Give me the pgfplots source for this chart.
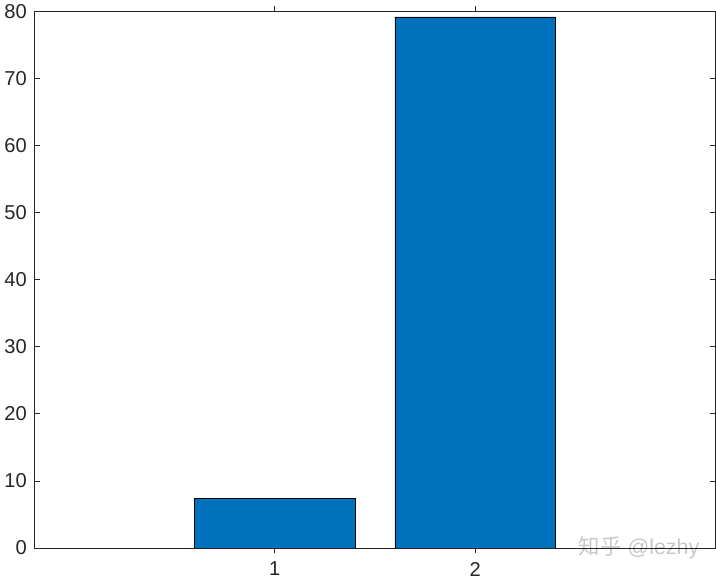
\documentclass[border=0pt]{standalone}
\usepackage{pgfplots}
\pgfplotsset{compat=1.18}
\usepackage{fontspec}
\setmainfont{Liberation Sans}
\newfontfamily\cjk{Noto Sans CJK SC}
\definecolor{matblue}{RGB}{0,114,189}
\definecolor{axgray}{RGB}{38,38,38}
\begin{document}
\begin{tikzpicture}
\begin{axis}[
  scale only axis,
  width=509pt, height=400.7pt,
  xmin=-0.2, xmax=3.2, ymin=0, ymax=80,
  xtick={1,2}, ytick={0,10,...,80},
  tick align=inside,
  major tick length=4pt,
  axis on top,
  clip=false,
  axis line style={axgray, line width=0.6pt},
  tick style={axgray, line width=0.6pt},
  ticklabel style={font=\fontsize{15}{17}\selectfont, text=axgray},
  /pgf/number format/assume math mode=true,
  xticklabel style={yshift=-3pt},
  yticklabel style={xshift=-2pt},
  ybar, bar width=0.8, bar shift=0pt,
]
\addplot[fill=matblue, draw=black, line width=0.5pt] coordinates {(1,7.35) (2,79.2)};
\end{axis}
\node[anchor=east, text=black, text opacity=0.22, font=\fontsize{16}{18}\selectfont, inner sep=0pt] at (497pt,0.5pt) {{\cjk 知乎} @lezhy};
\end{tikzpicture}
\end{document}
